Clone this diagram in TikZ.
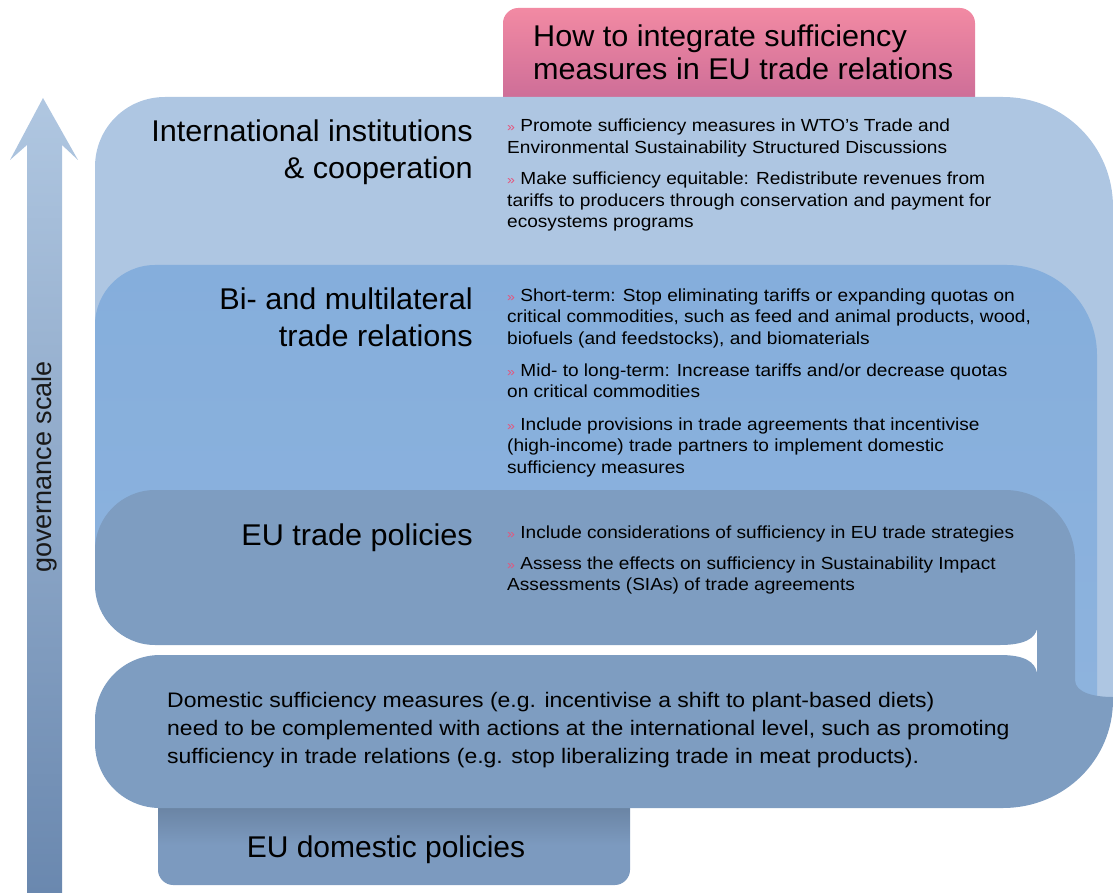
\documentclass[tikz,border=0pt]{standalone}
\usepackage{fontspec}
\setmainfont{Liberation Sans}
\newfontfamily\bulfont[FakeStretch=1.09]{Liberation Sans}
\newfontfamily\domfont[FakeStretch=1.095]{Liberation Sans}
\newfontfamily\labfont[FakeStretch=1.02]{Liberation Sans}
\definecolor{lightbox}{HTML}{AEC6E2}
\definecolor{midbox}{HTML}{85AEDC}
\definecolor{darkbox}{HTML}{7E9DC1}
\definecolor{dombox}{HTML}{7C9ABF}
\definecolor{pinktop}{HTML}{F28AA3}
\definecolor{pinkbot}{HTML}{CE6E98}
\definecolor{bulletpink}{HTML}{E4557D}
\definecolor{arrowtop}{HTML}{B0C7E1}
\definecolor{arrowbot}{HTML}{6A88AF}
\newcommand{\bul}{{\color{bulletpink}\fontsize{13}{13}\selectfont »}\ }
\tikzset{
  label/.style={font=\labfont\fontsize{30}{37}\selectfont, align=right, inner sep=0pt, anchor=base east, text=black},
  bullettext/.style={font=\bulfont\fontsize{17.5}{21.5}\selectfont, align=left, inner sep=0pt, anchor=base west, text=black},
}
\begin{document}
\begin{tikzpicture}[x=1pt,y=-1pt]
\useasboundingbox (0,0) rectangle (1113,893);
% title box
\shade[top color=pinktop, bottom color=pinkbot]
  (503,97) -- (503,23) .. controls (503,15) and (510,8) .. (518,8) -- (960,8)
  .. controls (968,8) and (975,15) .. (975,23) -- (975,97) -- cycle;
\node[font=\labfont\fontsize{30}{33}\selectfont, align=left, inner sep=0pt, anchor=base west] (title) at (533,80)
  {How to integrate sufficiency\\measures in EU trade relations};
% top light box
\fill[lightbox] (95,560) -- (95,167) .. controls (95,128) and (126,97) .. (165,97)
  -- (1003,97) .. controls (1064,97) and (1113,146) .. (1113,207)
  -- (1113,702) -- (1085,702) -- (1085,560) -- cycle;
% bi box
\shade[top color=midbox, bottom color=midbox!80!lightbox] (95,570) -- (95,325) .. controls (95,292) and (122,265) .. (155,265)
  -- (1007,265) .. controls (1057,265) and (1097,305) .. (1097,355)
  -- (1097,698) -- (1060,698) -- (1060,570) -- cycle;
% EU domestic policies box
\shade[top color=dombox!85!black, bottom color=dombox, middle color=dombox]
  (158,805) -- (630,805) -- (630,870) .. controls (630,878) and (623,885) .. (615,885)
  -- (173,885) .. controls (165,885) and (158,878) .. (158,870) -- cycle;
% dark combined shape
\fill[darkbox] (95,550) .. controls (95,517) and (122,490) .. (155,490)
  -- (1005,490) .. controls (1044,490) and (1075,521) .. (1075,560)
  -- (1075,680) .. controls (1075,693) and (1095,697) .. (1113,697)
  -- (1113,700) .. controls (1113,760) and (1064,808) .. (1003,808)
  -- (160,808) .. controls (124,808) and (95,779) .. (95,743)
  -- (95,720) .. controls (95,684) and (124,655) .. (160,655)
  -- (1000,655) .. controls (1025,655) and (1035,662) .. (1037,673)
  -- (1037,629) .. controls (1035,638) and (1025,645) .. (1000,645)
  -- (155,645) .. controls (122,645) and (95,618) .. (95,585)
  -- cycle;
% arrow
\shade[top color=arrowtop, bottom color=arrowbot]
  (43,98) -- (78,160) -- (62,145) -- (62,893) -- (27,893) -- (27,145) -- (10,160) -- cycle;
\node[rotate=90, font=\fontsize{27}{27}\selectfont, text=black!90, inner sep=0pt] (scale) at (45,467) {governance scale};
% left labels
\node[label] (intl) at (473,179) {International institutions\\\& cooperation};
\node[label] (bi) at (473,346) {Bi- and multilateral\\trade relations};
\node[label] (eutp) at (473,545) {EU trade policies};
\node[font=\fontsize{30}{30}\selectfont, inner sep=0pt, anchor=base] (eudom) at (386,857) {EU domestic policies};
% bullets: international
\node[bullettext] (t1) at (507,153.5) {\bul Promote sufficiency measures in WTO’s Trade and\\Environmental Sustainability Structured Discussions};
\node[bullettext] (t2) at (507,228) {\bul Make sufficiency equitable: Redistribute revenues from\\tariffs to producers through conservation and payment for\\ecosystems programs};
% bullets: bilateral
\node[bullettext] (b1) at (507,344) {\bul Short-term: Stop eliminating tariffs or expanding quotas on\\critical commodities, such as feed and animal products, wood,\\biofuels (and feedstocks), and biomaterials};
\node[bullettext] (b2) at (507,397.5) {\bul Mid- to long-term: Increase tariffs and/or decrease quotas\\on critical commodities};
\node[bullettext] (b3) at (507,473) {\bul Include provisions in trade agreements that incentivise\\(high-income) trade partners to implement domestic\\sufficiency measures};
% bullets: EU
\node[bullettext] (e1) at (507,538) {\bul Include considerations of sufficiency in EU trade strategies};
\node[bullettext] (e2) at (507,590.5) {\bul Assess the effects on sufficiency in Sustainability Impact\\Assessments (SIAs) of trade agreements};
% domestic text
\node[font=\domfont\fontsize{21}{28.3}\selectfont, align=left, inner sep=0pt, anchor=base west] (domtext) at (167,763.6)
  {Domestic sufficiency measures (e.g. incentivise a shift to plant-based diets)\\need to be complemented with actions at the international level, such as promoting\\sufficiency in trade relations (e.g. stop liberalizing trade in meat products).};
\end{tikzpicture}
\end{document}
